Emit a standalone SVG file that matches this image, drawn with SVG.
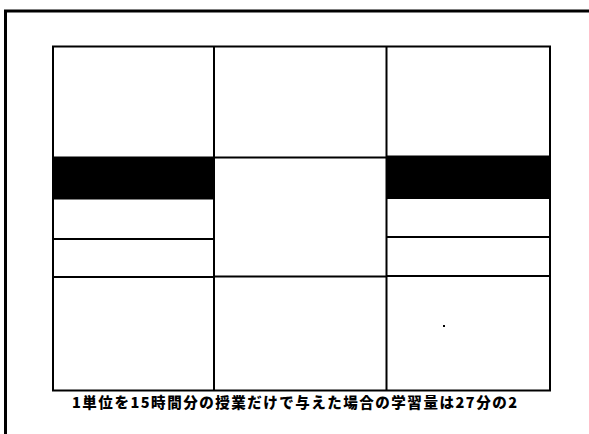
<svg xmlns="http://www.w3.org/2000/svg" width="589" height="434" viewBox="0 0 589 434">
  <style>
    .frame { fill: none; stroke: #000; stroke-width: 3; }
    .grid { fill: none; stroke: #000; stroke-width: 2; }
    .band { fill: #000; stroke: #000; stroke-width: 1; }
    .cap { font-family: "Noto Sans CJK JP", "Liberation Sans", sans-serif; font-weight: 900; font-size: 14.5px; fill: #000; }
  </style>
  <rect width="589" height="434" fill="#fff"/>
  <g id="outer-frame">
    <polyline class="frame" points="5.5,434 5.5,11 589,11"/>
  </g>
  <g id="grid-outline">
    <rect class="grid" x="53" y="46.5" width="497" height="344"/>
  </g>
  <g id="column-left">
    <rect class="band" x="53" y="157" width="161" height="42"/>
    <line class="grid" x1="53" y1="239" x2="214" y2="239"/>
    <line class="grid" x1="53" y1="277" x2="214" y2="277"/>
  </g>
  <g id="column-middle">
    <line class="grid" x1="214" y1="46.5" x2="214" y2="390.5"/>
    <line class="grid" x1="386.5" y1="46.5" x2="386.5" y2="390.5"/>
    <line class="grid" x1="214" y1="157.5" x2="386.5" y2="157.5"/>
    <line class="grid" x1="214" y1="276.5" x2="386.5" y2="276.5"/>
  </g>
  <g id="column-right">
    <rect class="band" x="386.5" y="156" width="163.5" height="42.5"/>
    <line class="grid" x1="386.5" y1="237" x2="550" y2="237"/>
    <line class="grid" x1="386.5" y1="276" x2="550" y2="276"/>
  </g>
  <g id="speck">
    <rect x="443" y="325" width="2" height="2" fill="#000"/>
  </g>
  <g id="caption">
    <text class="cap" x="72" y="408" textLength="445" lengthAdjust="spacing">1単位を15時間分の授業だけで与えた場合の学習量は27分の2</text>
  </g>
</svg>
